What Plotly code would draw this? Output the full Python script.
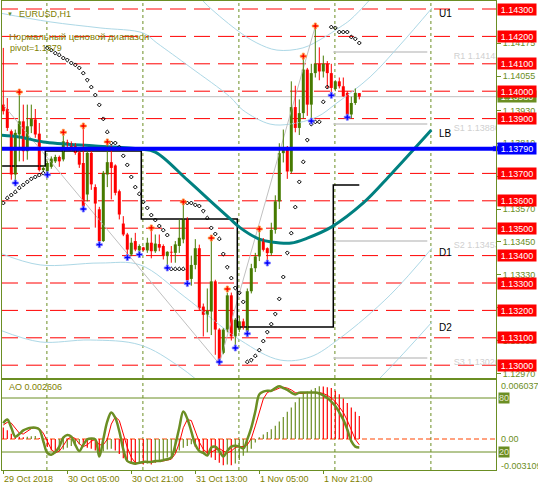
import plotly.graph_objects as go

W, H = 538, 491
FONT = "Liberation Sans, Arial, sans-serif"
OLIVE = "#6b8e23"
TXT_OLIVE = "#808000"
BULL = "#467b00"
BEAR = "#ff0000"

# ---------------- data ----------------
bars = list(range(90))
opens = [1.13951, 1.13935, 1.13854, 1.13696, 1.13842, 1.13890, 1.13781, 1.13872, 1.13897, 1.13845,
         1.13712, 1.13708, 1.13724, 1.13744, 1.13760, 1.13751, 1.13814, 1.13811, 1.13805, 1.13777,
         1.13738, 1.13623, 1.13775, 1.13650, 1.13569, 1.13453, 1.13696, 1.13741, 1.13729, 1.13635,
         1.13517, 1.13477, 1.13404, 1.13453, 1.13419, 1.13430, 1.13419, 1.13447, 1.13416, 1.13442,
         1.13435, 1.13398, 1.13414, 1.13410, 1.13435, 1.13459, 1.13533, 1.13315, 1.13366, 1.13427,
         1.13214, 1.13184, 1.13196, 1.13306, 1.13130, 1.13045, 1.13130, 1.13255, 1.13105, 1.13130,
         1.13160, 1.13123, 1.13270, 1.13354, 1.13397, 1.13458, 1.13427, 1.13409, 1.13494, 1.13598,
         1.13774, 1.13792, 1.13707, 1.13942, 1.13866, 1.13920, 1.14079, 1.13951, 1.14066, 1.14100,
         1.14072, 1.14100, 1.14066, 1.14008, 1.14036, 1.14018, 1.13994, 1.13915, 1.13957, 1.13993]
highs = [1.14158, 1.13975, 1.13860, 1.13860, 1.13985, 1.13951, 1.13951, 1.13951, 1.13935, 1.13884,
         1.13730, 1.13744, 1.13762, 1.13768, 1.13765, 1.13842, 1.13823, 1.13817, 1.13811, 1.13787,
         1.13866, 1.13787, 1.13782, 1.13660, 1.13578, 1.13709, 1.13806, 1.13802, 1.13733, 1.13641,
         1.13544, 1.13483, 1.13465, 1.13483, 1.13441, 1.13432, 1.13465, 1.13496, 1.13477, 1.13477,
         1.13441, 1.13416, 1.13435, 1.13453, 1.13532, 1.13585, 1.13540, 1.13400, 1.13460, 1.13440,
         1.13225, 1.13280, 1.13458, 1.13312, 1.13135, 1.13135, 1.13265, 1.13265, 1.13172, 1.13180,
         1.13170, 1.13280, 1.13370, 1.13410, 1.13490, 1.13464, 1.13430, 1.13520, 1.13620, 1.13810,
         1.13860, 1.13800, 1.14036, 1.14020, 1.13970, 1.14120, 1.14085, 1.14100, 1.14230, 1.14160,
         1.14130, 1.14110, 1.14100, 1.14040, 1.14050, 1.14050, 1.14000, 1.13980, 1.14010, 1.13993]
lows = [1.13915, 1.13855, 1.13677, 1.13675, 1.13744, 1.13744, 1.13750, 1.13847, 1.13830, 1.13707,
        1.13707, 1.13702, 1.13717, 1.13738, 1.13724, 1.13744, 1.13790, 1.13781, 1.13768, 1.13720,
        1.13578, 1.13598, 1.13640, 1.13502, 1.13447, 1.13450, 1.13650, 1.13605, 1.13620, 1.13532,
        1.13471, 1.13400, 1.13398, 1.13416, 1.13410, 1.13416, 1.13410, 1.13390, 1.13410, 1.13416,
        1.13386, 1.13360, 1.13374, 1.13374, 1.13410, 1.13445, 1.13303, 1.13290, 1.13350, 1.13200,
        1.13105, 1.13120, 1.13110, 1.13038, 1.13020, 1.13040, 1.13120, 1.13090, 1.13072, 1.13120,
        1.13130, 1.13120, 1.13262, 1.13340, 1.13380, 1.13415, 1.13378, 1.13400, 1.13480, 1.13570,
        1.13740, 1.13680, 1.13700, 1.13850, 1.13840, 1.13900, 1.13910, 1.13900, 1.14050, 1.14040,
        1.14050, 1.14010, 1.13990, 1.14000, 1.14010, 1.13980, 1.13910, 1.13900, 1.13950, 1.13970]
closes = [1.13927, 1.13866, 1.13696, 1.13848, 1.13890, 1.13781, 1.13872, 1.13899, 1.13842, 1.13712,
          1.13720, 1.13738, 1.13754, 1.13760, 1.13744, 1.13817, 1.13809, 1.13783, 1.13775, 1.13732,
          1.13580, 1.13775, 1.13660, 1.13590, 1.13453, 1.13702, 1.13741, 1.13720, 1.13629, 1.13550,
          1.13477, 1.13422, 1.13447, 1.13422, 1.13435, 1.13420, 1.13447, 1.13416, 1.13444, 1.13429,
          1.13398, 1.13414, 1.13411, 1.13441, 1.13465, 1.13533, 1.13310, 1.13366, 1.13427, 1.13208,
          1.13184, 1.13198, 1.13306, 1.13130, 1.13013, 1.13130, 1.13255, 1.13105, 1.13166, 1.13160,
          1.13141, 1.13270, 1.13354, 1.13397, 1.13458, 1.13421, 1.13409, 1.13494, 1.13598, 1.13774,
          1.13792, 1.13707, 1.13942, 1.13866, 1.13920, 1.14079, 1.13951, 1.14066, 1.14100, 1.14072,
          1.14100, 1.14066, 1.14012, 1.14036, 1.14018, 1.13981, 1.13915, 1.13957, 1.13994, 1.13980]

sar = [1.13592, 1.13610, 1.13621, 1.13632, 1.13647, 1.13658, 1.13669, 1.13680, 1.13687, 1.13694, 1.13701,
       1.14158, 1.14150, 1.14139, 1.14132, 1.14121, 1.14114, 1.14103, 1.14096, 1.14085,
       1.14066, 1.14041, 1.14015, 1.13986, 1.13950, 1.13899, 1.13851, 1.13811, 1.13811, 1.13796, 1.13764,
       1.13731, 1.13687, 1.13650, 1.13625, 1.13596, 1.13574, 1.13548, 1.13530, 1.13508, 1.13493, 1.13475,
       1.13351, 1.13351, 1.13351, 1.13351,
       1.13592, 1.13592, 1.13585, 1.13581, 1.13563, 1.13537, 1.13501, 1.13479, 1.13461, 1.13406, 1.13358,
       1.13318, 1.13282, 1.13264, 1.13231,
       1.13012, 1.13019, 1.13034, 1.13055, 1.13088, 1.13121, 1.13150, 1.13187, 1.13242, 1.13322, 1.13410,
       1.13482, 1.13577, 1.13669, 1.13742, 1.13822, 1.13880, 1.13888, 1.13888, 1.13961, 1.14015,
       1.14234, 1.14231, 1.14216, 1.14216, 1.14216, 1.14198, 1.14191, 1.14176]

frac_up_bars = [4, 15, 20, 26, 37, 45, 52, 56, 64, 75, 78]
frac_up_prices = [1.13997, 1.13850, 1.13873, 1.13815, 1.13501, 1.13596, 1.13464, 1.13278, 1.13497, 1.14128, 1.14238]
frac_dn_bars = [3, 11, 20, 24, 31, 34, 41, 46, 54, 58, 61, 66, 77, 82, 86]
frac_dn_prices = [1.13665, 1.13695, 1.13570, 1.13440, 1.13393, 1.13404, 1.13355, 1.13298, 1.13012,
                  1.13063, 1.13115, 1.13373, 1.13891, 1.13985, 1.13905]

teal_x = [-1, 4, 10, 23, 34, 38, 46, 52, 57, 59, 64, 67, 72, 76, 82, 90, 97, 107]
teal_y = [1.13840, 1.13833, 1.13815, 1.13800, 1.13789, 1.13778, 1.13676, 1.13596, 1.13530, 1.13504,
          1.13460, 1.13450, 1.13446, 1.13464, 1.13504, 1.13592, 1.13698, 1.13858]

outer_x = [49.2, 50.4, 58.4, 63.4, 68.4, 74.9, 79.9, 84.2, 86.7, 90.9, 92.2]
outer_y = [1.14344, 1.14322, 1.14223, 1.14176, 1.14150, 1.14158, 1.14194, 1.14234, 1.14260, 1.14322, 1.14344]
u1_x = [-0.8, 11.7, 24.2, 35.0, 38.4, 46.7, 56.7, 59.9, 66.7, 71.7, 78.4, 83.4, 91.7, 99.2, 107.2]
u1_y = [1.14285, 1.14253, 1.14231, 1.14212, 1.14176, 1.14088, 1.13979, 1.13931, 1.13880, 1.13880,
        1.13906, 1.13957, 1.14052, 1.14169, 1.14304]
d1_x = [-0.8, 9.2, 24.2, 34.2, 45.4, 59.2, 69.2, 76.7, 84.2, 96.7, 107.2]
d1_y = [1.13409, 1.13366, 1.13373, 1.13366, 1.13249, 1.13092, 1.13019, 1.13030, 1.13099, 1.13256, 1.13428]
d2_x = [-0.8, 9.2, 21.7, 34.2, 44.2, 59.2, 69.2, 81.7, 94.9, 107.2]
d2_y = [1.13128, 1.13085, 1.13092, 1.13074, 1.12993, 1.12818, 1.12745, 1.12782, 1.12964, 1.13158]

zigzag_x = [0, 54, 78]
zigzag_y = [1.13950, 1.13005, 1.14237]

step_x = [-0.3, 10.5, 34.5, 58.5, 82.5, 89]
step_y = [1.13727, 1.13782, 1.13534, 1.13139, 1.13658, 1.13658]

level_prices = [1.1430, 1.1420, 1.1410, 1.1400, 1.1390, 1.1370, 1.1360,
                1.1350, 1.1340, 1.1330, 1.1320, 1.1310, 1.1300]
lb_price = 1.1379
bid_price = 1.1398
pivot_names = ["R1", "S1", "S2", "S3"]
pivot_prices = [1.14143, 1.13880, 1.13453, 1.13026]
pivot_start_bar, pivot_end_bar = 82.5, 106
zone_labels = ["U1", "LB", "D1", "D2"]
zone_label_prices = [1.14282, 1.13847, 1.13413, 1.13139]
zone_label_bar = 108.4

axis_tick_vals = [1.14175, 1.14055, 1.13930, 1.13810, 1.13690, 1.13570, 1.13450,
                  1.13330, 1.13210, 1.13090, 1.12970]

ao = [0.0013, 0.0010, 0.0006, 0.0003, 0.00025, 0.0002, 0.00025, 0.0003, 0.00035, 0.0001,
      -0.0004, -0.0009, -0.0013, -0.0016, -0.0014, -0.0012, -0.0010, -0.0008, -0.0007, -0.0006,
      -0.0008, -0.0010, -0.0011, -0.0013, -0.0016, -0.0014, -0.0012, -0.0011, -0.0013, -0.0017,
      -0.0022, -0.0026, -0.0028, -0.0029, -0.0028, -0.0029, -0.0028, -0.0029, -0.0027, -0.0025,
      -0.0023, -0.0021, -0.0019, -0.0016, -0.0013, -0.0010, -0.0008, -0.0006, -0.0009, -0.0012,
      -0.0016, -0.0019, -0.0021, -0.0024, -0.0027, -0.0030, -0.0029, -0.0030, -0.0028, -0.0024,
      -0.0019, -0.0015, -0.0011, -0.0004, 0.0002, 0.0005, 0.0008, 0.0011, 0.0015, 0.0020,
      0.0025, 0.0031, 0.0036, 0.0042, 0.0047, 0.0052, 0.0054, 0.0056, 0.0058, 0.0060,
      0.00598, 0.0059, 0.0058, 0.0055, 0.0051, 0.0046, 0.0041, 0.0036, 0.0031, 0.002606]
stoch_k = [52, 56, 47, 37, 40, 44, 46, 47, 47, 45, 32, 19, 17, 20, 26, 36, 39, 37, 28, 21,
           28, 34, 35, 34, 15, 34, 54, 64, 58, 43, 23, 10, 8, 7, 8, 9, 9, 9, 10, 10,
           11, 12, 14, 28, 47, 65, 57, 43, 28, 21, 19, 16, 25, 26, 21, 15, 21, 26, 27, 26,
           24, 34, 47, 65, 84, 87, 88, 88, 91, 93, 91, 89, 86, 84, 86, 86, 86, 86, 86, 85,
           83, 80, 76, 71, 64, 56, 45, 32, 26, 25]
stoch_d = [50, 53, 52, 47, 41, 40, 43, 46, 47, 46, 41, 32, 23, 19, 21, 27, 34, 37, 35, 29,
           26, 28, 32, 34, 28, 28, 34, 51, 59, 55, 41, 25, 14, 8, 8, 8, 9, 9, 9, 10,
           10, 11, 12, 18, 30, 47, 56, 55, 43, 31, 23, 19, 20, 22, 24, 21, 19, 21, 25, 26,
           26, 28, 35, 49, 65, 79, 86, 88, 89, 91, 92, 91, 89, 86, 85, 85, 86, 86, 86, 86,
           85, 83, 80, 76, 70, 64, 55, 44, 34, 28]
stoch_levels = [80, 20]
ao_labels = [0.006037, 0.0, -0.003109]
ao_label_texts = ["0.006037", "0.00", "-0.003109"]

time_tick_bars = [0, 16, 32, 48, 64, 80]
time_tick_labels = ["29 Oct 2018", "30 Oct 05:00", "30 Oct 21:00", "31 Oct 13:00", "1 Nov 05:00", "1 Nov 21:00"]
day_start_bars = [11, 35, 59, 83, 107]

# ---------------- layout geometry (pixels) ----------------
PX_L, PX_R = 2, 496
X_RANGE = [-0.325, 123.175]
P_TOP, P_BOT = 1, 378
A_TOP, A_BOT = 380, 470
PRICE_RANGE = [1.129533, 1.143292]
AO_RANGE = [-0.003531, 0.006721]

def yp(px):
    return 1 - px / H

fig = go.Figure()

# envelope curves
for xs, ys in [(outer_x, outer_y), (u1_x, u1_y), (d1_x, d1_y), (d2_x, d2_y)]:
    fig.add_trace(go.Scatter(x=xs, y=ys, mode="lines", line=dict(color="#add8e6", width=1, shape="spline"),
                             xaxis="x", yaxis="y", hoverinfo="skip"))
# zigzag
fig.add_trace(go.Scatter(x=zigzag_x, y=zigzag_y, mode="lines", line=dict(color="#c0c0c0", width=1),
                         xaxis="x", yaxis="y"))
# black step
fig.add_trace(go.Scatter(x=step_x, y=step_y, mode="lines", line=dict(color="black", width=1.5, shape="hv"),
                         xaxis="x", yaxis="y"))
# teal curve
fig.add_trace(go.Scatter(x=teal_x, y=teal_y, mode="lines", line=dict(color="#008080", width=3, shape="spline"),
                         xaxis="x", yaxis="y"))

# candles: wicks
for bull in (True, False):
    wx, wy = [], []
    for i in bars:
        if (closes[i] >= opens[i]) == bull:
            wx += [i, i, None]
            wy += [lows[i], highs[i], None]
    fig.add_trace(go.Scatter(x=wx, y=wy, mode="lines", line=dict(color=BULL if bull else BEAR, width=1),
                             xaxis="x", yaxis="y"))
# candles: bodies
fig.add_trace(go.Bar(x=bars, y=[max(abs(c - o), 0.00003) for o, c in zip(opens, closes)],
                     base=[min(o, c) for o, c in zip(opens, closes)], width=0.75,
                     marker=dict(color=[BULL if c >= o else BEAR for o, c in zip(opens, closes)], line=dict(width=0)),
                     xaxis="x", yaxis="y"))
# SAR
fig.add_trace(go.Scatter(x=bars, y=sar, mode="markers",
                         marker=dict(symbol="diamond-open", size=3, color="black", line=dict(width=1)),
                         xaxis="x", yaxis="y"))
# fractals
fig.add_trace(go.Scatter(x=frac_up_bars, y=frac_up_prices, mode="markers",
                         marker=dict(symbol="cross", size=5, color="#ff0000", line=dict(color="#ffa040", width=0.8)),
                         xaxis="x", yaxis="y"))
fig.add_trace(go.Scatter(x=frac_dn_bars, y=frac_dn_prices, mode="markers",
                         marker=dict(symbol="cross", size=5, color="#0000ff", line=dict(color="#8080ff", width=0.8)),
                         xaxis="x", yaxis="y"))
# pivot labels (clipped at plot edge)
fig.add_trace(go.Scatter(x=[112.6] * 4, y=[p - 0.00018 for p in pivot_prices], mode="text",
                         text=[f"{n} {p:.5f}" for n, p in zip(pivot_names, pivot_prices)],
                         textposition="middle right", cliponaxis=True,
                         textfont=dict(color="#d0d0d0", size=9, family=FONT), xaxis="x", yaxis="y"))
# blue marker at axis
fig.add_trace(go.Scatter(x=[X_RANGE[1] - 0.1], y=[lb_price], mode="markers", cliponaxis=False,
                         marker=dict(symbol="square", size=6, color="#0000ff", line=dict(color="white", width=1)),
                         xaxis="x", yaxis="y"))

# AO histogram
ao_colors = [OLIVE if (i > 0 and ao[i] > ao[i - 1]) else BEAR for i in range(len(ao))]
fig.add_trace(go.Bar(x=bars, y=ao, width=0.3, marker=dict(color=ao_colors, line=dict(width=0)),
                     xaxis="x2", yaxis="y2"))
# stochastic
fig.add_trace(go.Scatter(x=bars, y=stoch_d, mode="lines", line=dict(color="#ff0000", width=1),
                         xaxis="x2", yaxis="y3"))
fig.add_trace(go.Scatter(x=bars, y=stoch_k, mode="lines", line=dict(color=OLIVE, width=2.5, shape="spline"),
                         xaxis="x2", yaxis="y3"))

shapes = []
for p in level_prices:
    shapes.append(dict(type="line", xref="x", yref="y", x0=X_RANGE[0], x1=X_RANGE[1], y0=p, y1=p,
                       line=dict(color="#ff0000", width=1, dash="16px,8px"), layer="below"))
shapes.append(dict(type="line", xref="x", yref="y", x0=X_RANGE[0], x1=X_RANGE[1], y0=bid_price, y1=bid_price,
                   line=dict(color="#c0c0c0", width=1), layer="below"))
for p in pivot_prices:
    shapes.append(dict(type="line", xref="x", yref="y", x0=pivot_start_bar, x1=pivot_end_bar, y0=p, y1=p,
                       line=dict(color="#c8c8c8", width=1.5), layer="below"))
for b in day_start_bars:
    for yr in ("y domain", "y2 domain"):
        shapes.append(dict(type="line", xref="x", yref=yr, x0=b - 0.1, x1=b - 0.1, y0=0, y1=1,
                           line=dict(color=OLIVE, width=1, dash="3px,3px"), layer="below"))
shapes.append(dict(type="line", xref="x", yref="y", x0=X_RANGE[0], x1=X_RANGE[1], y0=lb_price, y1=lb_price,
                   line=dict(color="#0000ff", width=4), layer="above"))
for lv in stoch_levels:
    shapes.append(dict(type="line", xref="x2", yref="y3", x0=X_RANGE[0], x1=X_RANGE[1], y0=lv, y1=lv,
                       line=dict(color=OLIVE, width=1), layer="below"))
shapes.append(dict(type="line", xref="x2", yref="y2", x0=X_RANGE[0], x1=X_RANGE[1], y0=0, y1=0,
                   line=dict(color="#ff4500", width=1, dash="5px,3px"), layer="below"))

ann = []
def box(y, text, bg, yref="y", fc="white"):
    ann.append(dict(xref="paper", x=497 / W, xanchor="left", yref=yref, y=y, yanchor="middle", text=text,
                    showarrow=False, bgcolor=bg, font=dict(color=fc, size=9, family=FONT),
                    width=38, height=11, align="center", borderpad=0))

box(bid_price, f"{bid_price:.5f}", OLIVE)
for p in level_prices:
    box(p, f"{p:.5f}", "#ff0000")
box(lb_price, f"{lb_price:.5f}", "#0000ff")
for lv in stoch_levels:
    ann.append(dict(xref="paper", x=498 / W, xanchor="left", yref="y3", y=lv, yanchor="middle", text=str(lv),
                    showarrow=False, bgcolor=OLIVE, font=dict(color="#e8e8d0", size=9, family=FONT),
                    borderpad=0))
for v, t in zip(ao_labels, ao_label_texts):
    ann.append(dict(xref="paper", x=499 / W, xanchor="left", yref="y2", y=v, yanchor="middle", text=t,
                    showarrow=False, font=dict(color=OLIVE, size=9, family=FONT)))
for b, t in zip(time_tick_bars, time_tick_labels):
    ann.append(dict(xref="x2", x=b - 0.25, xanchor="left", yref="paper", y=yp(479), yanchor="middle", text=t,
                    showarrow=False, font=dict(color=TXT_OLIVE, size=9, family=FONT)))
for t, p in zip(zone_labels, zone_label_prices):
    ann.append(dict(xref="x", x=zone_label_bar, xanchor="left", yref="y", y=p, yanchor="middle", text=t,
                    showarrow=False, font=dict(color="black", size=10, family=FONT)))
ann.append(dict(xref="paper", x=5 / W, xanchor="left", yref="paper", y=yp(14), yanchor="middle", text="▼",
                showarrow=False, font=dict(color=OLIVE, size=6, family=FONT)))
ann.append(dict(xref="paper", x=17 / W, xanchor="left", yref="paper", y=yp(14), yanchor="middle", text="EURUSD,H1",
                showarrow=False, font=dict(color=TXT_OLIVE, size=9, family=FONT)))
ann.append(dict(xref="paper", x=7 / W, xanchor="left", yref="paper", y=yp(36), yanchor="middle",
                text="Нормальный ценовой диапазон", showarrow=False,
                font=dict(color=TXT_OLIVE, size=9.5, family=FONT)))
ann.append(dict(xref="paper", x=8 / W, xanchor="left", yref="paper", y=yp(48), yanchor="middle",
                text="pivot=1.1379", showarrow=False, font=dict(color=TXT_OLIVE, size=9, family=FONT)))
ann.append(dict(xref="paper", x=7 / W, xanchor="left", yref="paper", y=yp(387), yanchor="middle",
                text=f"AO {ao[-1]:.6f}", showarrow=False, font=dict(color=TXT_OLIVE, size=9, family=FONT)))

axis_common = dict(showgrid=False, zeroline=False, showline=True, linecolor=OLIVE, linewidth=1, mirror=True)
fig.update_layout(
    width=W, height=H, autosize=False,
    margin=dict(l=0, r=0, t=0, b=0, pad=0),
    paper_bgcolor="white", plot_bgcolor="white",
    showlegend=False, barmode="overlay", hovermode=False,
    font=dict(family=FONT, size=9, color=OLIVE),
    xaxis=dict(domain=[PX_L / W, PX_R / W], range=X_RANGE, anchor="y", showticklabels=False, ticks="",
               **axis_common),
    yaxis=dict(domain=[yp(P_BOT), yp(P_TOP)], range=PRICE_RANGE, anchor="x", side="right",
               tickvals=axis_tick_vals, ticktext=[f"{v:.5f}" for v in axis_tick_vals],
               ticks="outside", ticklen=4, tickcolor=OLIVE,
               tickfont=dict(color=OLIVE, size=9, family=FONT), **axis_common),
    xaxis2=dict(domain=[PX_L / W, PX_R / W], range=X_RANGE, anchor="y2", matches="x",
                tickvals=time_tick_bars, ticks="outside", ticklen=3, tickcolor=OLIVE,
                showticklabels=False, **axis_common),
    yaxis2=dict(domain=[yp(A_BOT), yp(A_TOP)], range=AO_RANGE, anchor="x2", side="right",
                showticklabels=False, ticks="", **axis_common),
    yaxis3=dict(range=[0, 100], overlaying="y2", anchor="x2", side="right", visible=False,
                showgrid=False, zeroline=False),
    shapes=shapes, annotations=ann,
)

fig.write_html("out.html", config={"staticPlot": True},
               post_script="document.body.style.margin='0';document.body.style.padding='0';")
